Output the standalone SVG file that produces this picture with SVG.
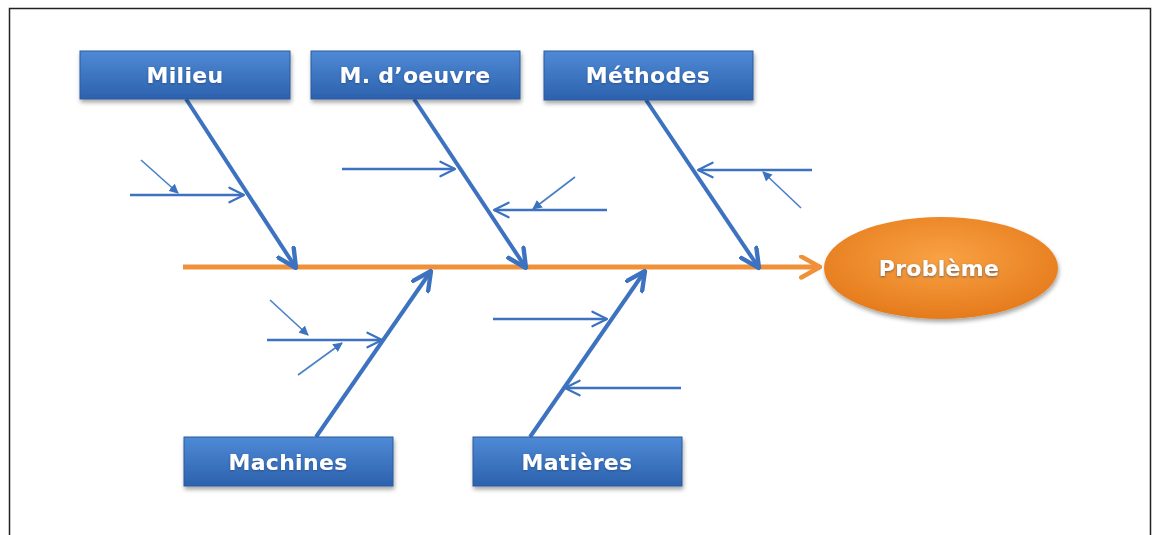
<svg xmlns="http://www.w3.org/2000/svg" width="1159" height="535" viewBox="0 0 1159 535">
  <defs>
    <linearGradient id="boxFill" x1="0" y1="0" x2="0" y2="1">
      <stop offset="0" stop-color="#4f8ad6"/>
      <stop offset="1" stop-color="#2c61ad"/>
    </linearGradient>
    <radialGradient id="ovalFill" cx="0.5" cy="0.4" r="0.6">
      <stop offset="0" stop-color="#f9a244"/>
      <stop offset="1" stop-color="#e57b1c"/>
    </radialGradient>
    <filter id="shadow" x="-10%" y="-20%" width="120%" height="150%">
      <feDropShadow dx="1" dy="3" stdDeviation="2" flood-color="#000" flood-opacity="0.35"/>
    </filter>
    <filter id="textGlow" x="-10%" y="-30%" width="120%" height="160%">
      <feDropShadow dx="0" dy="1" stdDeviation="1" flood-color="#1d3f73" flood-opacity="0.6"/>
    </filter>
    <!-- open chevron head for main bones -->
    <marker id="boneHead" viewBox="0 0 12 12" refX="11" refY="6" markerWidth="5.5" markerHeight="5.5" orient="auto" markerUnits="strokeWidth">
      <path d="M1 1 L11 6 L1 11" fill="none" stroke="#3c72c0" stroke-width="2.4" stroke-linecap="round" stroke-linejoin="round"/>
    </marker>
    <!-- open chevron head for sub-causes -->
    <marker id="causeHead" viewBox="0 0 12 12" refX="11" refY="6" markerWidth="7" markerHeight="7" orient="auto" markerUnits="strokeWidth">
      <path d="M1 1 L11 6 L1 11" fill="none" stroke="#3c72c0" stroke-width="1.5" stroke-linecap="round" stroke-linejoin="round"/>
    </marker>
    <!-- solid head for secondary sub-causes -->
    <marker id="subHead" viewBox="0 0 10 10" refX="9" refY="5" markerWidth="6" markerHeight="6" orient="auto" markerUnits="strokeWidth">
      <path d="M0 0 L10 5 L0 10 Z" fill="#3c72c0"/>
    </marker>
    <!-- chevron head for the spine -->
    <marker id="spineHead" viewBox="0 0 12 12" refX="11" refY="6" markerWidth="5" markerHeight="5" orient="auto" markerUnits="strokeWidth">
      <path d="M2 1 L11 6 L2 11" fill="none" stroke="#f0913a" stroke-width="2.2" stroke-linecap="round" stroke-linejoin="round"/>
    </marker>
  </defs>
  <style>
    .box { fill: url(#boxFill); stroke: #2a5a9e; stroke-width: 1; filter: url(#shadow); }
    .label { font-family: "DejaVu Sans", "Liberation Sans", sans-serif; font-weight: bold; font-size: 22px; letter-spacing: 0.3px; fill: #ffffff; text-anchor: middle; dominant-baseline: central; filter: url(#textGlow); }
    .bone { stroke: #3c72c0; stroke-width: 4; fill: none; marker-end: url(#boneHead); }
    .cause { stroke: #3c72c0; stroke-width: 2.5; fill: none; marker-end: url(#causeHead); }
    .sub { stroke: #4a7fc8; stroke-width: 1.6; fill: none; marker-end: url(#subHead); }
    .spine { stroke: #f0913a; stroke-width: 5; fill: none; marker-end: url(#spineHead); }
  </style>

  <rect width="1159" height="535" fill="#ffffff"/>
  <!-- outer frame -->
  <path d="M9.5 535 V8.5 H1150.5 V535" fill="none" stroke="#222" stroke-width="1.5"/>

  <g id="connectors">
    <!-- spine -->
    <line class="spine" x1="183" y1="267" x2="820" y2="267"/>
    <!-- main bones -->
    <line class="bone" x1="186" y1="99" x2="296" y2="268"/>
    <line class="bone" x1="414" y1="99" x2="526" y2="268"/>
    <line class="bone" x1="646" y1="100" x2="759" y2="268"/>
    <line class="bone" x1="316" y1="437" x2="431" y2="271"/>
    <line class="bone" x1="530" y1="437" x2="645" y2="271"/>
    <!-- Milieu causes -->
    <line class="cause" x1="130" y1="195" x2="244" y2="195"/>
    <line class="sub" x1="141" y1="160" x2="178" y2="193"/>
    <!-- M. d'oeuvre causes -->
    <line class="cause" x1="342" y1="169" x2="455" y2="169"/>
    <line class="cause" x1="607" y1="210" x2="494" y2="210"/>
    <line class="sub" x1="575" y1="177" x2="533" y2="209"/>
    <!-- Méthodes causes -->
    <line class="cause" x1="812" y1="170" x2="698" y2="170"/>
    <line class="sub" x1="801" y1="208" x2="763" y2="172"/>
    <!-- Machines causes -->
    <line class="cause" x1="267" y1="340" x2="382" y2="340"/>
    <line class="sub" x1="270" y1="300" x2="308" y2="335"/>
    <line class="sub" x1="298" y1="375" x2="342" y2="343"/>
    <!-- Matières causes -->
    <line class="cause" x1="493" y1="319" x2="607" y2="319"/>
    <line class="cause" x1="681" y1="388" x2="565" y2="388"/>
  </g>

  <g id="milieu">
    <rect class="box" x="80" y="51" width="210" height="48"/>
    <text class="label" x="185" y="75">Milieu</text>
  </g>
  <g id="main-oeuvre">
    <rect class="box" x="311" y="51" width="209" height="48"/>
    <text class="label" x="415" y="75">M. d’oeuvre</text>
  </g>
  <g id="methodes">
    <rect class="box" x="544" y="51" width="209" height="49"/>
    <text class="label" x="648" y="75">Méthodes</text>
  </g>
  <g id="machines">
    <rect class="box" x="184" y="437" width="209" height="49"/>
    <text class="label" x="288" y="462">Machines</text>
  </g>
  <g id="matieres">
    <rect class="box" x="473" y="437" width="209" height="49"/>
    <text class="label" x="577" y="462">Matières</text>
  </g>
  <g id="probleme">
    <ellipse cx="941" cy="268" rx="117" ry="51" fill="url(#ovalFill)" filter="url(#shadow)"/>
    <text class="label" x="939" y="268">Problème</text>
  </g>
</svg>
